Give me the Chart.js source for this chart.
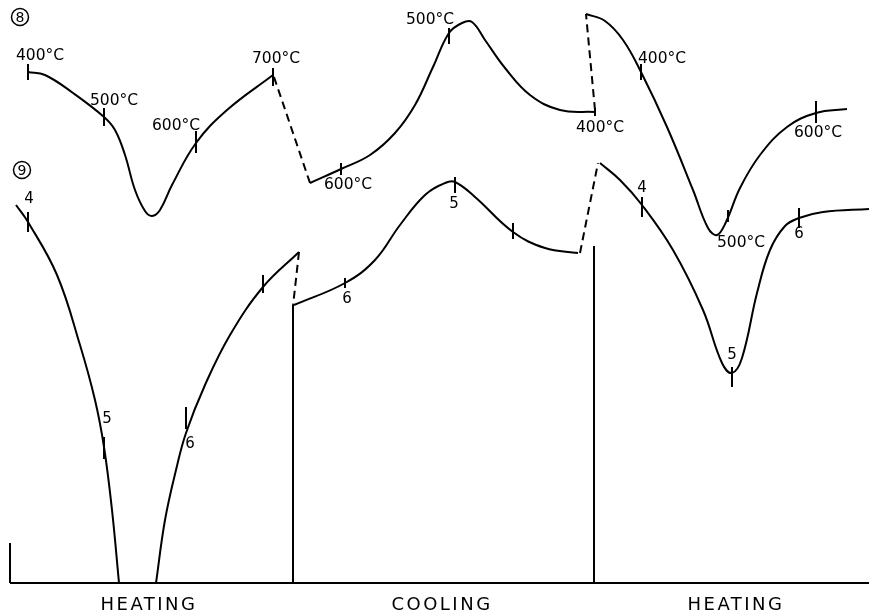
<!DOCTYPE html>
<html>
<head>
<meta charset="utf-8">
<script src="https://cdn.jsdelivr.net/npm/chart.js@4"></script>
<style>
  html, body { margin: 0; padding: 0; background: #fff; }
  #wrap { width: 869px; height: 615px; position: relative; }
</style>
</head>
<body>
<div id="wrap"><canvas id="dta"></canvas></div>
<script>
// curve 8 - heating, cooling, heating (x = progress, y = signal, picture units)
const c8Heat1 = [[28,72],[45,75],[73,93],[104,117],[115,130],[125,155],[135,190],[145,211],[152,216],[160,210],[172,185],[196,143],[227,110],[273,75]];
const c8Dash1 = [[274,77],[310,183]];
const c8Cool = [[310,183],[341,169],[370,155],[395,133],[415,105],[433,67],[449,33],[462,23],[472,22],[485,40],[505,68],[530,95],[560,110],[595,112]];
const c8Dash2 = [[595,110],[586,14]];
const c8Heat2 = [[586,14],[605,21],[623,40],[641,72],[667,127],[693,190],[708,228],[717,235],[726,222],[740,188],[760,155],[787,127],[816,113],[847,109]];

// curve 9
const c9Heat1a = [[16,205],[28,222],[57,275],[80,345],[95,400],[104,447],[112,510],[119,583]];
const c9Heat1b = [[156,583],[165,520],[176,470],[186,433],[205,385],[230,335],[263,287],[299,252]];
const c9Dash1 = [[299,252],[293,306]];
const c9Cool = [[294,305],[345,283],[375,260],[400,225],[425,195],[445,183],[455,182],[475,197],[513,232],[545,248],[578,253]];
const c9Dash2 = [[580,253],[598,163]];
const c9Heat2 = [[600,163],[620,180],[642,205],[673,250],[703,310],[722,363],[732,373],[742,358],[757,293],[770,250],[785,226],[799,218],[823,212],[869,209]];

// frame: baseline, left stub, section dividers
const baseLine = [[10,583],[869,583]];
const leftStub = [[10,543],[10,583]];
const divider1 = [[293,306],[293,583]];
const divider2 = [[594,246],[594,583]];

// tick marks on curves [x, y, half length]
const ticks8 = [[28,72,8],[104,117,9],[196,142,11],[273,77,9],[341,169,6],[449,36,8],[595,112,4],[641,72,8],[728,216,6],[816,112,11]];
const ticks9 = [[28,222,10],[104,448,11],[186,418,11],[263,284,9],[345,283,5],[455,185,8],[513,231,8],[642,207,10],[732,377,10],[799,218,10]];

// temperature and number labels [text, x, y]
const tempLabels = [['400°C',40,56],['500°C',114,101],['600°C',176,126],['700°C',276,59],['600°C',348,185],['500°C',430,20],['400°C',600,128],['400°C',662,59],['600°C',818,133],['500°C',741,243]];
const numLabels = [['4',29,199],['5',107,419],['6',190,444],['6',347,299],['5',454,204],['4',642,188],['5',732,355],['6',799,234]];
const curveTags = [['8',20,17],['9',22,170]];
const phaseLabels = [['HEATING',149,605],['COOLING',442,605],['HEATING',736,605]];

function pts(a) {
    return a.map(p => ({ x: p[0], y: p[1] }));
}

function curve(a, dashed, width) {
    return {
        data: pts(a),
        borderColor: '#000',
        borderWidth: width || 2,
        borderDash: dashed ? [8, 5] : [],
        pointRadius: 0,
        tension: dashed ? 0 : 0.4,
        fill: false
    };
}

function tickSet(a) {
    return {
        type: 'scatter',
        data: a.map(p => ({ x: p[0], y: p[1] })),
        pointStyle: 'line',
        rotation: 90,
        pointRadius: a.map(p => p[2]),
        pointBorderWidth: 2,
        borderColor: '#000',
        backgroundColor: '#000',
        showLine: false
    };
}

// draws all the text through the scales
const labelPlugin = {
    id: 'labels',
    afterDatasetsDraw(chart) {
        const ctx = chart.ctx;
        const sx = chart.scales.x, sy = chart.scales.y;
        ctx.save();
        ctx.fillStyle = '#000';
        ctx.strokeStyle = '#000';
        ctx.textAlign = 'center';
        ctx.textBaseline = 'middle';

        ctx.font = '15.5px "DejaVu Sans"';
        tempLabels.forEach(l => ctx.fillText(l[0], sx.getPixelForValue(l[1]), sy.getPixelForValue(l[2])));
        ctx.font = '15px "DejaVu Sans"';
        numLabels.forEach(l => ctx.fillText(l[0], sx.getPixelForValue(l[1]), sy.getPixelForValue(l[2])));

        ctx.lineWidth = 1.5;
        ctx.font = '14px "DejaVu Sans"';
        curveTags.forEach(l => {
            const x = sx.getPixelForValue(l[1]), y = sy.getPixelForValue(l[2]);
            ctx.beginPath();
            ctx.arc(x, y, 8.5, 0, Math.PI * 2);
            ctx.stroke();
            ctx.fillText(l[0], x, y + 1);
        });

        ctx.font = '18px "DejaVu Sans"';
        ctx.letterSpacing = '2.5px';
        phaseLabels.forEach(l => ctx.fillText(l[0], sx.getPixelForValue(l[1]), sy.getPixelForValue(l[2])));
        ctx.restore();
    }
};

new Chart(document.getElementById('dta'), {
    type: 'line',
    data: {
        datasets: [
            curve(c8Heat1), curve(c8Dash1, true), curve(c8Cool), curve(c8Dash2, true), curve(c8Heat2),
            curve(c9Heat1a), curve(c9Heat1b), curve(c9Dash1, true), curve(c9Cool), curve(c9Dash2, true), curve(c9Heat2),
            curve(baseLine), curve(leftStub), curve(divider1), curve(divider2),
            tickSet(ticks8), tickSet(ticks9)
        ]
    },
    options: {
        responsive: true,
        maintainAspectRatio: false,
        animation: false,
        layout: { padding: 0, autoPadding: false },
        scales: {
            x: { type: 'linear', min: 0, max: 869, display: false },
            y: { type: 'linear', min: 0, max: 615, reverse: true, display: false }
        },
        plugins: {
            legend: { display: false },
            tooltip: { enabled: false }
        },
        clip: false
    },
    plugins: [labelPlugin]
});
</script>
</body>
</html>
